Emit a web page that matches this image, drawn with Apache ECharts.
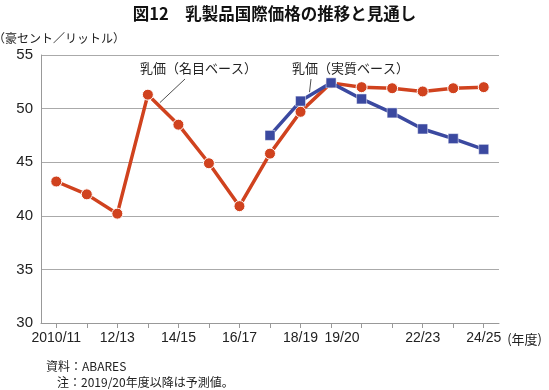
<!DOCTYPE html>
<html><head><meta charset="utf-8">
<script src="https://cdn.jsdelivr.net/npm/echarts@6/dist/echarts.min.js"></script>
<style>html,body{margin:0;padding:0;background:#fff}#c{width:549px;height:390px}</style>
</head><body><div id="c"></div>
<script>
const categories = ['2010/11','11/12','12/13','13/14','14/15','15/16','16/17','17/18','18/19','19/20','20/21','21/22','22/23','23/24','24/25'];
const shownLabels = ['2010/11','12/13','14/15','16/17','18/19','19/20','22/23','24/25'];
const nominal = [43.2, 42.0, 40.2, 51.3, 48.5, 44.9, 40.9, 45.8, 49.7, 52.4, 52.0, 51.9, 51.6, 51.9, 52.0];
const real = [null, null, null, null, null, null, null, 47.5, 50.7, 52.4, 50.9, 49.6, 48.1, 47.2, 46.2];
const yTicks = [30, 35, 40, 45, 50, 55];

const RED = '#D0421E', BLUE = '#3B49A0';
const FONT = '"Liberation Sans Narrow","Liberation Sans","Noto Sans CJK JP",sans-serif';
const JFONT = '"Noto Sans CJK JP",sans-serif';

const chart = echarts.init(document.getElementById('c'), null, {renderer: 'canvas'});
chart.setOption({
  animation: false,
  backgroundColor: '#fff',
  title: {
    text: '図12　乳製品国際価格の推移と見通し',
    left: 'center', top: 0,
    textStyle: {fontFamily: JFONT, fontSize: 16.5, fontWeight: 'bold', color: '#111'}
  },
  grid: {left: 41, right: 50, top: 55, bottom: 67, containLabel: false, outerBoundsMode: 'none'},
  xAxis: {
    type: 'category',
    data: categories,
    boundaryGap: true,
    name: '(年度)',
    nameLocation: 'end',
    nameGap: 8,
    nameTextStyle: {fontFamily: JFONT, fontSize: 13, color: '#222', verticalAlign: 'top', padding: [10, 0, 0, 0]},
    axisLine: {lineStyle: {color: '#999', width: 1}},
    axisTick: {show: true, alignWithLabel: true, interval: 0, length: 5, lineStyle: {color: '#999'}},
    axisLabel: {
      interval: 0, margin: 8,
      fontFamily: FONT, fontSize: 14, color: '#222',
      formatter: function (v) {
        if (shownLabels.indexOf(v) < 0) return '';
        if (v === '19/20') return '{s|' + v + '}';
        return v;
      },
      rich: {s: {fontFamily: FONT, fontSize: 14, color: '#222', padding: [0, 0, 0, 22]}}
    },
    splitLine: {show: false}
  },
  yAxis: {
    type: 'value',
    min: yTicks[0], max: yTicks[yTicks.length - 1], interval: 5,
    name: '（豪セント／リットル）',
    nameLocation: 'end',
    nameGap: 11,
    nameTextStyle: {fontFamily: JFONT, fontSize: 12, color: '#222', align: 'left', padding: [0, 0, 0, -48]},
    axisLine: {show: true, lineStyle: {color: '#999'}},
    axisTick: {show: false},
    axisLabel: {fontFamily: FONT, fontSize: 15, color: '#222', margin: 8},
    splitLine: {lineStyle: {color: '#aaa', width: 1}}
  },
  series: [
    {
      name: '乳価（名目ベース）', type: 'line', data: nominal,
      symbol: 'circle', symbolSize: 11,
      lineStyle: {color: RED, width: 3.5},
      itemStyle: {color: RED, borderColor: '#fff', borderWidth: 1},
      z: 2
    },
    {
      name: '乳価（実質ベース）', type: 'line', data: real,
      symbol: 'rect', symbolSize: 10,
      lineStyle: {color: BLUE, width: 3.5},
      itemStyle: {color: BLUE, borderColor: '#fff', borderWidth: 0.5},
      z: 3
    }
  ]
});

// annotations anchored to data coordinates
const pN = chart.convertToPixel({gridIndex: 0}, [3, nominal[3]]);
const pR = chart.convertToPixel({gridIndex: 0}, [8, real[8]]);
chart.setOption({
  graphic: [
    {type: 'text', x: 140, y: 62, style: {text: '乳価（名目ベース）', font: '13px ' + JFONT, fill: '#222'}},
    {type: 'line', shape: {x1: 185, y1: 79, x2: pN[0] + 12, y2: pN[1] + 8}, style: {stroke: '#222', lineWidth: 0.8}},
    {type: 'text', x: 292, y: 62, style: {text: '乳価（実質ベース）', font: '13px ' + JFONT, fill: '#222'}},
    {type: 'line', shape: {x1: 311, y1: 79, x2: pR[0] + 9, y2: pR[1] - 9}, style: {stroke: '#222', lineWidth: 0.8}},
    {type: 'text', x: 46, y: 360, style: {text: '資料：ABARES', font: '12px ' + JFONT, fill: '#222'}},
    {type: 'text', x: 57, y: 376, style: {text: '注：2019/20年度以降は予測値。', font: '12px ' + JFONT, fill: '#222'}}
  ]
});
</script></body></html>
